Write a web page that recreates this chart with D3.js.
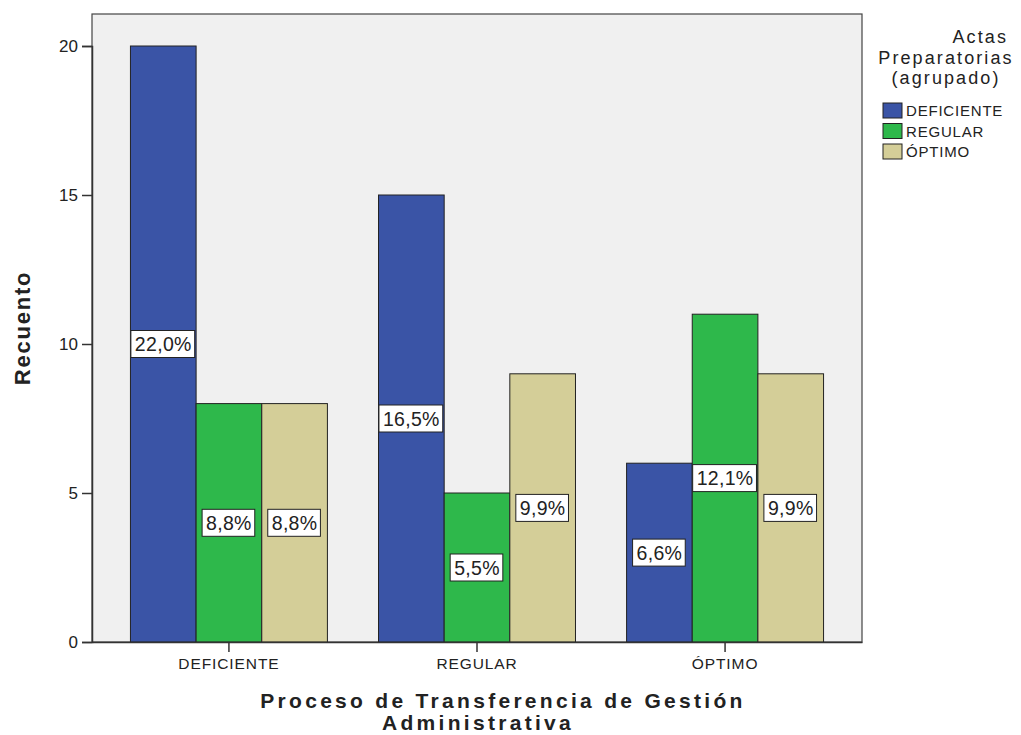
<!DOCTYPE html>
<html>
<head>
<meta charset="utf-8">
<script src="https://cdn.jsdelivr.net/npm/d3@7"></script>
<style>
  body { margin:0; background:#fff; }
  svg text { font-family: "Liberation Sans", Arial, sans-serif; fill:#222; }
</style>
</head>
<body>
<div id="chart"></div>
<script>
// data
const groups = ["DEFICIENTE", "REGULAR", "ÓPTIMO"];
const series = ["DEFICIENTE", "REGULAR", "ÓPTIMO"];
const colors = ["#3a54a6", "#2eb84b", "#d4ce98"];
const counts = [
  [20, 8, 8],   // DEFICIENTE
  [15, 5, 9],   // REGULAR
  [6, 11, 9]    // ÓPTIMO
];
const pctLabels = [
  ["22,0%", "8,8%", "8,8%"],
  ["16,5%", "5,5%", "9,9%"],
  ["6,6%", "12,1%", "9,9%"]
];
const yTicks = [0, 5, 10, 15, 20];

const W = 1021, H = 735;
const MG = {t:14, r:159, b:93, l:92};
const iW = W - MG.l - MG.r, iH = H - MG.t - MG.b;

const svg = d3.select("#chart").append("svg").attr("width", W).attr("height", H);
const g = svg.append("g").attr("transform", `translate(${MG.l},${MG.t})`);

const x0 = d3.scaleBand().domain(groups).range([0, iW]).paddingInner(0.206).paddingOuter(0.155);
const x1 = d3.scaleBand().domain(series).range([0, x0.bandwidth()]);
const y = d3.scaleLinear().domain([0, 20]).range([iH, iH - 596]);

// plot background
g.append("rect").attr("width", iW).attr("height", iH).attr("fill", "#f0f0f0")
  .attr("stroke", "#444").attr("stroke-width", 1.2);

// bars
const gg = g.selectAll(".grp").data(groups).join("g")
  .attr("transform", d => `translate(${x0(d)},0)`);

gg.selectAll("rect").data((d, i) => counts[i].map((v, j) => ({v, j})))
  .join("rect")
  .attr("x", d => x1(series[d.j]))
  .attr("width", x1.bandwidth())
  .attr("y", d => y(d.v))
  .attr("height", d => y(0) - y(d.v))
  .attr("fill", d => colors[d.j])
  .attr("stroke", "#222").attr("stroke-width", 1);

// value labels
gg.each(function(gname, i) {
  const grp = d3.select(this);
  counts[i].forEach((v, j) => {
    const cx = x1(series[j]) + x1.bandwidth() / 2, cy = y(v / 2);
    const t = grp.append("text").attr("x", cx).attr("y", cy)
      .attr("text-anchor", "middle").attr("dominant-baseline", "central")
      .attr("font-size", 19.5).attr("letter-spacing", 0.3).text(pctLabels[i][j]);
    const bb = t.node().getBBox();
    grp.insert("rect", "text")
      .attr("x", bb.x - 4).attr("y", cy - 13.5).attr("width", bb.width + 7).attr("height", 27)
      .attr("fill", "#fff").attr("stroke", "#222").attr("stroke-width", 1);
    t.raise();
  });
});

// axes
const yAx = g.append("g").call(d3.axisLeft(y).tickValues(yTicks).tickSize(10).tickPadding(4));
const xAx = g.append("g").attr("transform", `translate(0,${iH})`)
  .call(d3.axisBottom(x0).tickSize(10).tickPadding(6).tickSizeOuter(0));
[yAx, xAx].forEach(a => {
  a.select(".domain").attr("stroke", "#333").attr("stroke-width", 1.5);
  a.selectAll(".tick line").attr("stroke", "#333").attr("stroke-width", 1.5);
  a.selectAll(".tick text").attr("font-family", "'Liberation Sans', Arial, sans-serif")
    .attr("font-size", 15.5).attr("fill", "#222");
});
yAx.selectAll(".tick text").attr("font-size", 17);
xAx.selectAll(".tick text").attr("letter-spacing", 0.9);

// axis titles
svg.append("text").attr("transform", `translate(30,${MG.t + 314}) rotate(-90)`)
  .attr("text-anchor", "middle").attr("font-family", "'DejaVu Sans', sans-serif")
  .attr("font-weight", "bold").attr("font-size", 22).attr("letter-spacing", 1.8).attr("fill", "#111")
  .text("Recuento");

const xt = svg.append("text").attr("text-anchor", "middle")
  .attr("font-family", "'DejaVu Sans', sans-serif").attr("font-weight", "bold")
  .attr("font-size", 21).attr("letter-spacing", 3.3).attr("fill", "#111");
xt.append("tspan").attr("x", 503).attr("y", 708).text("Proceso de Transferencia de Gestión");
xt.append("tspan").attr("x", 478).attr("y", 730).text("Administrativa");

// legend
const lg = svg.append("g");
lg.append("text").attr("x", 1008).attr("y", 43).attr("text-anchor", "end")
  .attr("font-size", 18).attr("letter-spacing", 2.1).text("Actas");
lg.append("text").attr("x", 946).attr("y", 64).attr("text-anchor", "middle")
  .attr("font-size", 18).attr("letter-spacing", 2.1).text("Preparatorias");
lg.append("text").attr("x", 946).attr("y", 84).attr("text-anchor", "middle")
  .attr("font-size", 18).attr("letter-spacing", 2.1).text("(agrupado)");

series.forEach((s, i) => {
  const yy = 103 + i * 20.5;
  lg.append("rect").attr("x", 883).attr("y", yy).attr("width", 19).attr("height", 15)
    .attr("fill", colors[i]).attr("stroke", "#222").attr("stroke-width", 1);
  lg.append("text").attr("x", 906).attr("y", yy + 7.5).attr("dominant-baseline", "central")
    .attr("font-size", 15).attr("letter-spacing", 0.8).text(s);
});
</script>
</body>
</html>
